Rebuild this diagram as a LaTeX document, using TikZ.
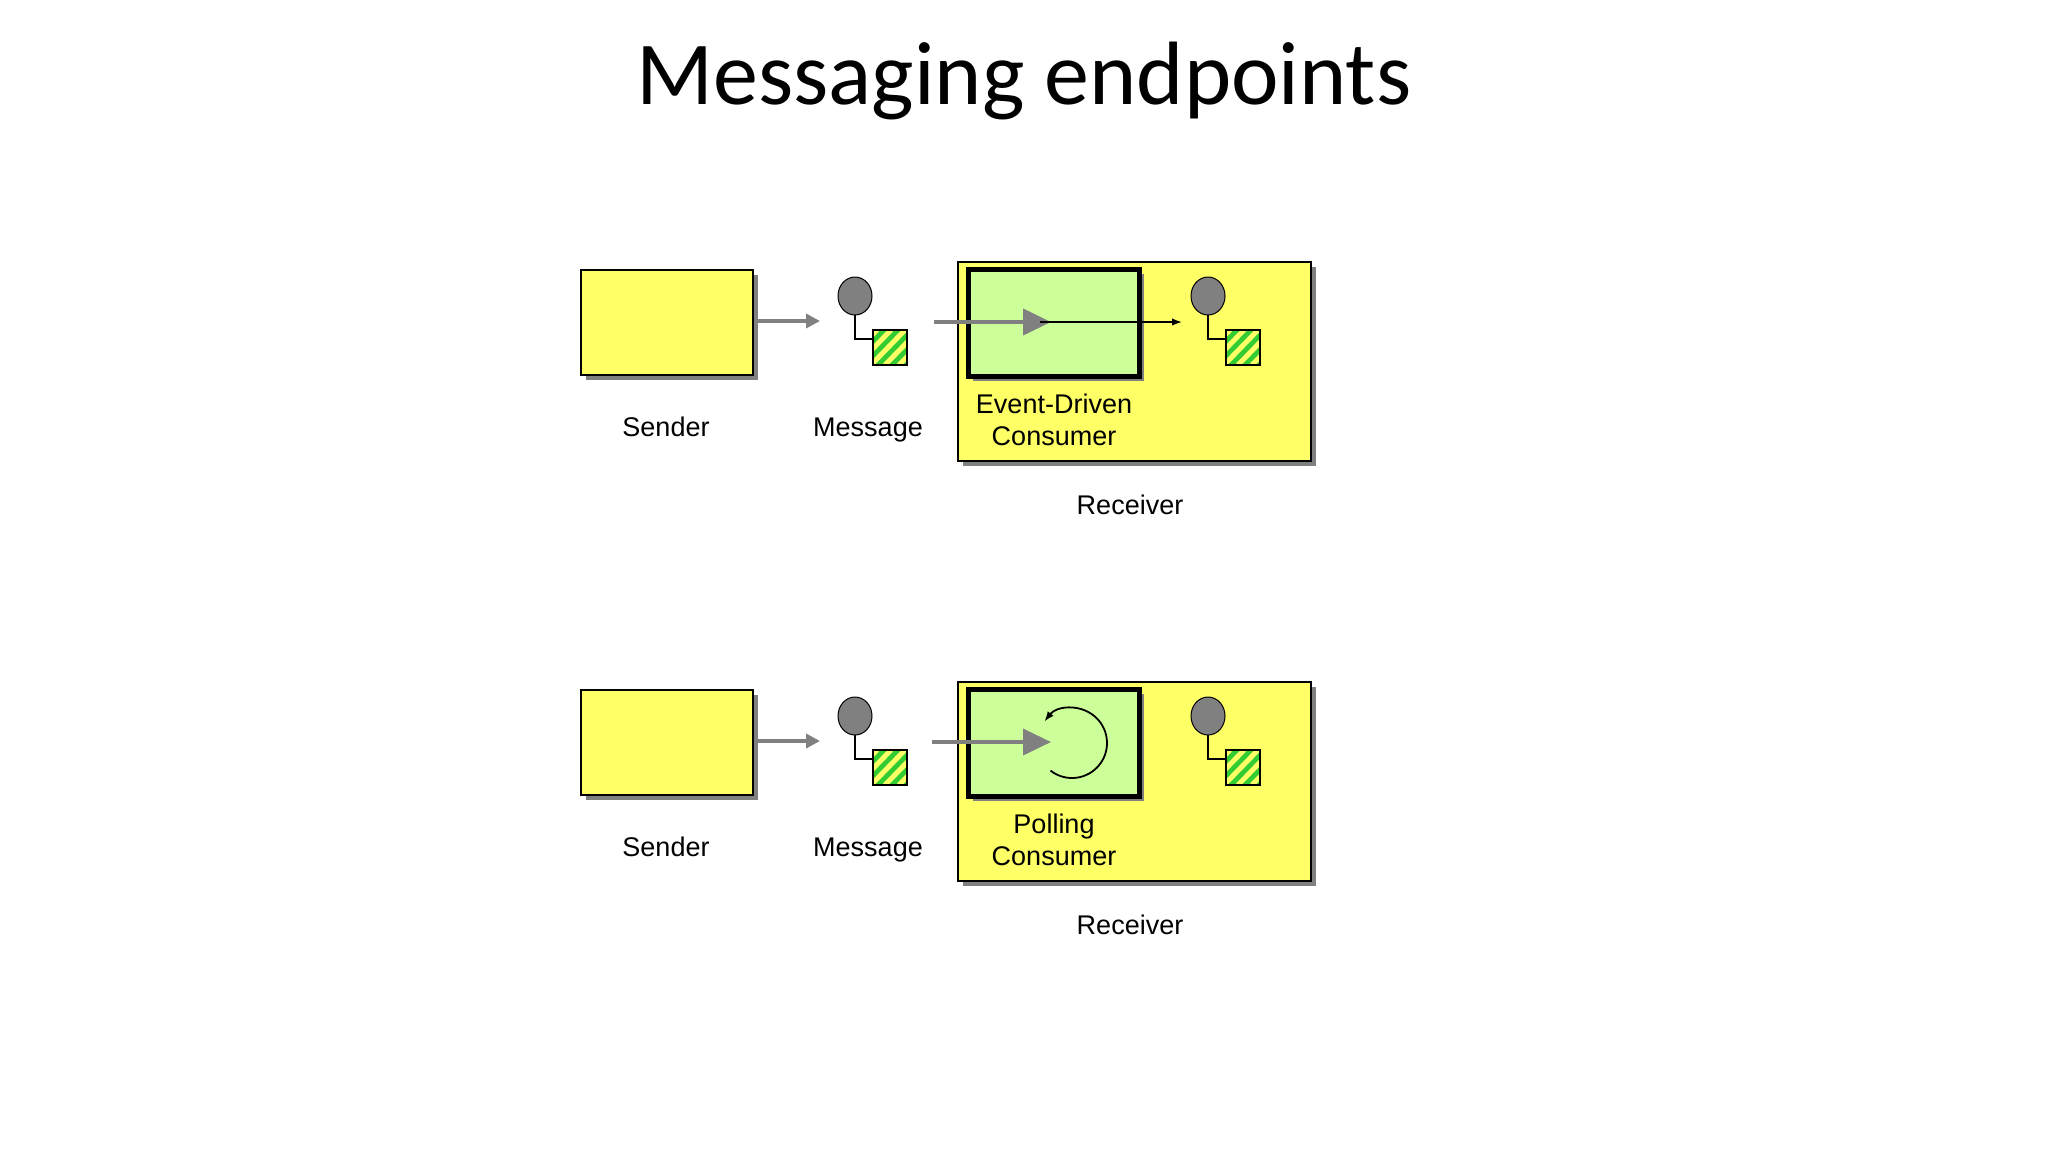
\documentclass[tikz,border=0pt]{standalone}
\usepackage{fontspec}
\setmainfont{Liberation Sans}
\newfontfamily\titlefont{Carlito}
\usetikzlibrary{arrows.meta}
\definecolor{ylw}{HTML}{FFFF66}
\definecolor{grn}{HTML}{CCFF99}
\definecolor{sq}{HTML}{33CC33}
\definecolor{gr}{HTML}{808080}
\tikzset{
  box/.style={draw=black, line width=1.2pt, fill=ylw},
  lbl/.style={font=\fontsize{13.5}{16}\selectfont},
  garrow/.style={draw=gr, line width=2pt, -{Triangle[length=7pt,width=7pt]}},
  bigarrow/.style={draw=gr, line width=2pt, -{Triangle[length=14pt,width=13pt]}},
}
\newcommand\msgicon[2]{% center of circle
  \begin{scope}[shift={(#1,#2)}]
    \draw[black, line width=0.8pt] (0,15) -- (0,43) -- (18,43);
    \fill[gr] (0,0) ellipse (17 and 19);
    \draw[black, line width=0.5pt] (0,0) ellipse (17 and 19);
    \begin{scope}
      \clip (18,34) rectangle (52,69);
      \fill[sq] (18,34) rectangle (52,69);
      \foreach \k in {-30,-16,...,40} {\draw[ylw, line width=2.5pt] (18+\k,69) -- (52+\k,34);}
    \end{scope}
    \draw[black, line width=1pt] (18,34) rectangle (52,69);
  \end{scope}}
\newcommand\row{%
    \fill[gr] (586,275) rectangle (758,380);
    \draw[box] (581,270) coordinate (snd) rectangle (753,375);
    \node[lbl, anchor=base] (sl) at (666,436) {Sender};
    \coordinate (m1) at (757,321);
    \coordinate (m2) at (820,321);
    \draw[garrow] (m1) -- (m2);
    \msgicon{855}{296}
    \node[lbl, anchor=base] (ml) at (868,436) {Message};
    \fill[gr] (963,267) rectangle (1316,466);
    \draw[box] (958,262) coordinate (rcv) rectangle (1311,461);
    \fill[gr] (973,274) rectangle (1144,381);
    \draw[black, line width=2.5pt, fill=grn] (968,269) coordinate (cons) rectangle (1139,376);
    \node[lbl] (rl) at (1130,505) {Receiver};
    \msgicon{1208}{296}
}
\begin{document}
\begin{tikzpicture}[x=0.5pt,y=-0.5pt]
\useasboundingbox (0,0) rectangle (2048,1152);
\fill[white] (0,0) rectangle (2048,1152);
\node[font=\titlefont\fontsize{45}{54}\selectfont] (title) at (1024,81) {Messaging endpoints};
\row
\coordinate (a1) at (934,322);
\coordinate (a2) at (1051,322);
\draw[bigarrow] (a1) -- (a2);
\coordinate (b1) at (1040,322);
\coordinate (b2) at (1182,322);
\draw[black, line width=0.8pt, -{Latex[length=5pt]}] (b1) -- (b2);
\node[lbl, align=center] (edc) at (1054,420) {Event-Driven\\Consumer};
\begin{scope}[shift={(0,420)}]
\row
\coordinate (pc) at (1072,323);
\draw[black, line width=0.9pt, -{Latex[length=5pt]}] (pc) ++(128:35) arc[start angle=128, end angle=-142, radius=35];
\coordinate (p1) at (932,322);
\coordinate (p2) at (1051,322);
\draw[bigarrow] (p1) -- (p2);
\node[lbl, align=center] (plc) at (1054,420) {Polling\\Consumer};
\end{scope}
\end{tikzpicture}
\end{document}
